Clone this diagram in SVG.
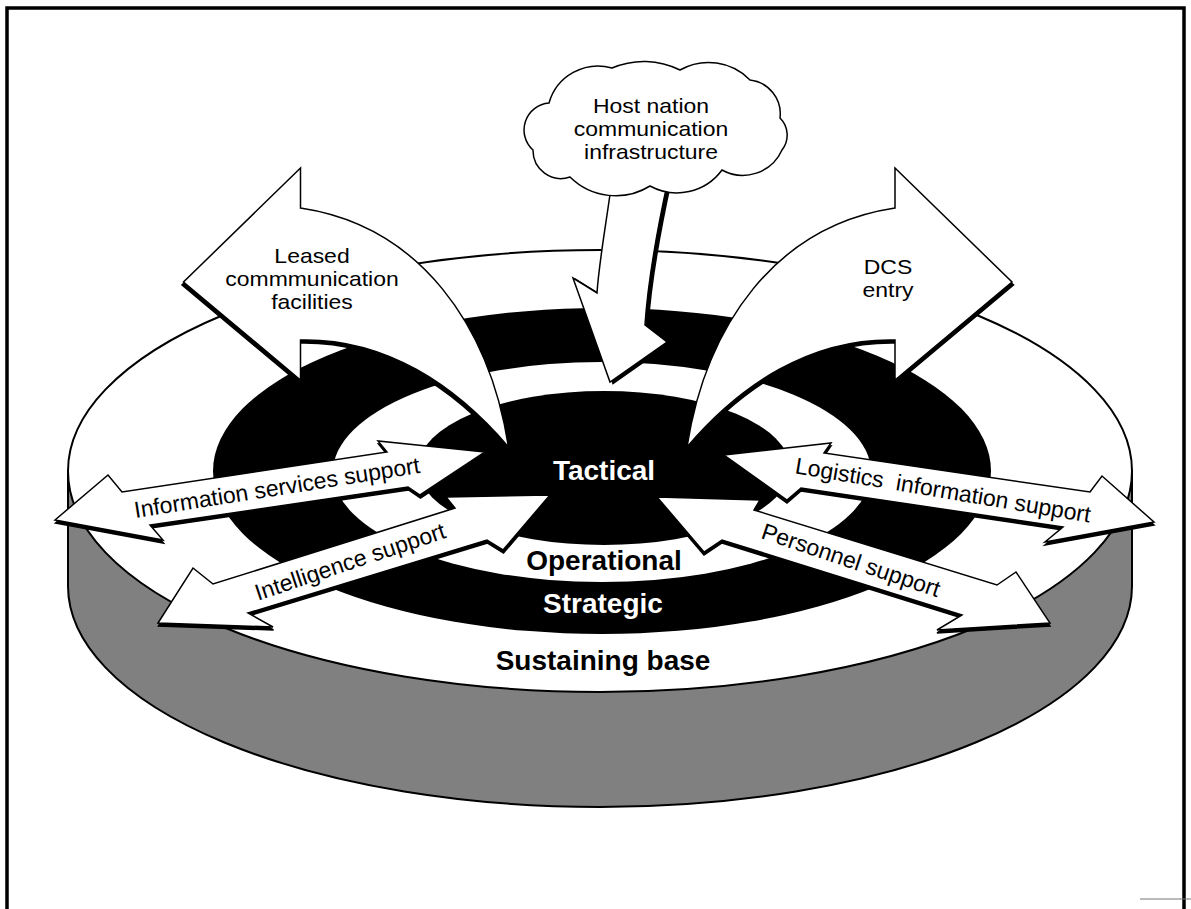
<svg xmlns="http://www.w3.org/2000/svg" xmlns:xlink="http://www.w3.org/1999/xlink" width="1191" height="909" viewBox="0 0 1191 909">
<style>
.arrow{fill:#fff;stroke:#000;stroke-width:1.5;stroke-linejoin:miter}
.shadow{fill:#000;stroke:#000;stroke-width:1.5}
.lbl{font-family:"Liberation Sans",Arial,sans-serif;font-size:23px;fill:#000;text-anchor:middle}
.ml{font-family:"Liberation Sans",Arial,sans-serif;font-size:20.5px;fill:#000;text-anchor:middle}
.ring{font-family:"Liberation Sans",Arial,sans-serif;font-size:28px;font-weight:bold;text-anchor:middle}
</style>
<defs>
<path id="curved" d="M687,447 C706,326 775,226 895,208 L895,168 L1012,282 L895,380 L895,340 C810,338 740,385 687,447 Z"/>
<path id="hostShape" d="M612,180 C606,225 599,262 597,293 L573,278 L610,382 L667,342 L645,325 C648,280 656,235 668,180 Z"/>
<path id="infoShape" d="M55,520 L108,475 L122,492 L387,452 L378,441 L485,452 L420,495 L408,487 L150,525 L163,540 Z"/>
<path id="intelShape" d="M158,623 L193,568 L213,584 L455,508 L446,497 L550,495 L503,550 L487,540 L248,613 L273,627 Z"/>
<path id="logShape" d="M724,455 L831,443 L824,453 L1090,492 L1102,476 L1154,522 L1045,542 L1063,527 L801,488 L787,500 Z"/>
<path id="persShape" d="M657,497 L760,500 L754,510 L997,585 L1016,572 L1050,623 L937,630 L962,615 L722,540 L704,552 Z"/>
</defs>
<rect x="0" y="0" width="1191" height="909" fill="#fff"/>
<rect id="frame" x="7" y="8" width="1177" height="910" fill="none" stroke="#000" stroke-width="3.5"/>
<line x1="1140" y1="899" x2="1191" y2="899" stroke="#777" stroke-width="1"/>

<g id="sustaining-base">
<path d="M68,471 V586 A532,221 0 0 0 1132,586 V471 Z" fill="#808080" stroke="#000" stroke-width="2"/>
<ellipse cx="600" cy="471" rx="532" ry="221" fill="#fff" stroke="#000" stroke-width="2"/>
<text class="ring" x="603" y="670" fill="#000">Sustaining base</text>
</g>
<g id="strategic">
<ellipse cx="602" cy="471" rx="389" ry="163" fill="#000"/>
<text class="ring" x="603" y="613" fill="#fff">Strategic</text>
</g>
<g id="operational">
<ellipse cx="602" cy="472" rx="269" ry="110" fill="#fff"/>
<text class="ring" x="604" y="570" fill="#000">Operational</text>
</g>
<g id="tactical">
<ellipse cx="604" cy="468" rx="186" ry="77" fill="#000"/>
<text class="ring" x="604" y="480" fill="#fff">Tactical</text>
</g>

<g id="connectors">
<g id="arrow-leased">
<g transform="matrix(-1 0 0 1 1195.5 0)">
<use xlink:href="#curved" class="shadow" transform="translate(1.5,3)"/>
<use xlink:href="#curved" class="arrow"/>
</g>
<g transform="translate(312,0) scale(1.12,1)">
<text class="ml" x="0" y="263">Leased</text>
<text class="ml" x="0" y="286">commmunication</text>
<text class="ml" x="0" y="309">facilities</text>
</g>
</g>
<g id="arrow-dcs">
<use xlink:href="#curved" class="shadow" transform="translate(1.5,3)"/>
<use xlink:href="#curved" class="arrow"/>
<g transform="translate(888,0) scale(1.12,1)">
<text class="ml" x="0" y="274.5">DCS</text>
<text class="ml" x="0" y="297.5">entry</text>
</g>
</g>
<g id="arrow-host">
<use xlink:href="#hostShape" class="shadow" transform="translate(3,1.5)"/>
<use xlink:href="#hostShape" class="arrow"/>
</g>
<g id="arrow-info">
<use xlink:href="#infoShape" class="shadow" transform="translate(0.5,3)"/>
<use xlink:href="#infoShape" class="arrow"/>
<text class="lbl" transform="translate(277,487.5) rotate(-9)" x="0" y="8">Information services support</text>
</g>
<g id="arrow-intel">
<use xlink:href="#intelShape" class="shadow" transform="translate(0.5,3)"/>
<use xlink:href="#intelShape" class="arrow"/>
<text class="lbl" transform="translate(350,561.5) rotate(-18.5)" x="0" y="8">Intelligence support</text>
</g>
<g id="arrow-logistics">
<use xlink:href="#logShape" class="shadow" transform="translate(0,3)"/>
<use xlink:href="#logShape" class="arrow"/>
<text class="lbl" transform="translate(943,490) rotate(9.5)" x="0" y="8">Logistics&#160; information support</text>
</g>
<g id="arrow-personnel">
<use xlink:href="#persShape" class="shadow" transform="translate(0,3)"/>
<use xlink:href="#persShape" class="arrow"/>
<text class="lbl" transform="translate(851,560) rotate(18.5)" x="0" y="8">Personnel support</text>
</g>
</g>

<g id="host-nation">
<path d="M533,150 A27,27 0 0 1 549,103 A51,51 0 0 1 612,68 A80,80 0 0 1 680,70 A58,58 0 0 1 750,80 A34,34 0 0 1 780,118 A24,24 0 0 1 782,150 A43,43 0 0 1 722,170 A56,56 0 0 1 650,186 A65,65 0 0 1 570,177 A28,28 0 0 1 533,150 Z" fill="#fff" stroke="#000" stroke-width="1.5"/>
<g transform="translate(651,0) scale(1.12,1)">
<text class="ml" x="0" y="113">Host nation</text>
<text class="ml" x="0" y="136">communication</text>
<text class="ml" x="0" y="159">infrastructure</text>
</g>
</g>
</svg>
